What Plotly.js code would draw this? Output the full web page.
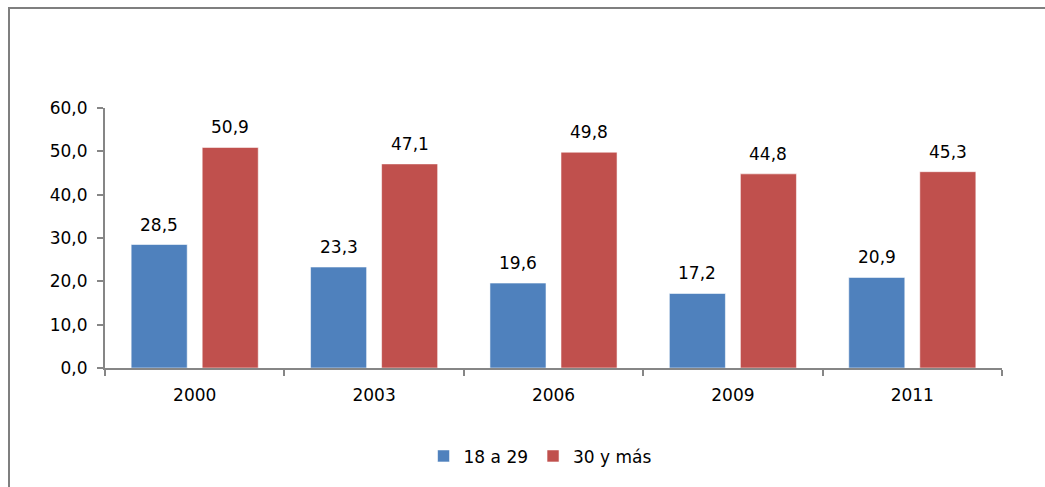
<!DOCTYPE html>
<html><head><meta charset="utf-8">
<script src="https://cdn.plot.ly/plotly-3.0.1.min.js"></script>
<style>
html,body{margin:0;padding:0;background:#fff;}
#frame{position:absolute;left:8px;top:7px;width:1100px;height:600px;border-left:2px solid #7f7f7f;border-top:2px solid #7f7f7f;pointer-events:none;}
#chart{position:absolute;left:0;top:0;width:1045px;height:487px;}
</style></head>
<body>
<div id="chart"></div>
<div id="frame"></div>
<script>
const years = ['2000','2003','2006','2009','2011'];
const young = [28.5, 23.3, 19.6, 17.2, 20.9];
const older = [50.9, 47.1, 49.8, 44.8, 45.3];
const seriesNames = ['18 a 29', '30 y más'];
const yTicks = [0,10,20,30,40,50,60];

const fs = 17;
const mkFont = () => ({family:'DejaVu Sans, Verdana, sans-serif', size:fs, color:'#000'});
const bargap = 0.208, bargroupgap = 0.211;

const traces = [
  {type:'bar', name:seriesNames[0], x:years, y:young,
   marker:{color:'#4F81BD', line:{color:'rgba(255,255,255,0.55)', width:1}}},
  {type:'bar', name:seriesNames[1], x:years, y:older,
   marker:{color:'#C0504D', line:{color:'rgba(255,255,255,0.55)', width:1}}}
];

const L = 105, R = 43, T = 108, B = 115;
const plotW = 1045 - L - R;
const catW = plotW / years.length;
const slot = catW * (1 - bargap) / 2;
const annotations = [];
[young, older].forEach((arr, si) => {
  arr.forEach((v, i) => {
    annotations.push({x: i, y: v, xref:'x', yref:'y',
      text: v.toFixed(1).replace('.', ','), showarrow:false,
      xshift: (si === 0 ? -1 : 1) * slot / 2, yshift: 20, yanchor:'middle',
      font: mkFont()});
  });
});

const layout = {
  width:1045, height:487,
  margin:{l:L, r:R, t:T, b:B, pad:0},
  paper_bgcolor:'#fff', plot_bgcolor:'#fff',
  font: mkFont(),
  separators: ',.',
  barmode:'group', bargap: bargap, bargroupgap: bargroupgap,
  showlegend:true,
  legend:{orientation:'h', x:0.485, xanchor:'center', y:-0.34, yanchor:'middle',
          font:mkFont(), itemwidth:30, traceorder:'normal'},
  xaxis:{type:'category', range:[-0.5, years.length - 0.5], showline:true, linecolor:'#868686', linewidth:2,
         ticks:'outside', tickson:'boundaries', ticklen:6, tickcolor:'#868686', tickwidth:2,
         showgrid:false, zeroline:false, tickfont:mkFont(), ticklabelstandoff:11, tickangle:0},
  yaxis:{range:[0,60], tickvals:yTicks, tickformat:'.1f', showline:true, linecolor:'#868686',
         linewidth:2, ticks:'outside', ticklen:6, tickcolor:'#868686', tickwidth:2,
         showgrid:false, zeroline:false, tickfont:mkFont(), ticklabelstandoff:6},
  annotations: annotations
};
Plotly.newPlot('chart', traces, layout, {displayModeBar:false, staticPlot:true});
</script>
</body></html>
